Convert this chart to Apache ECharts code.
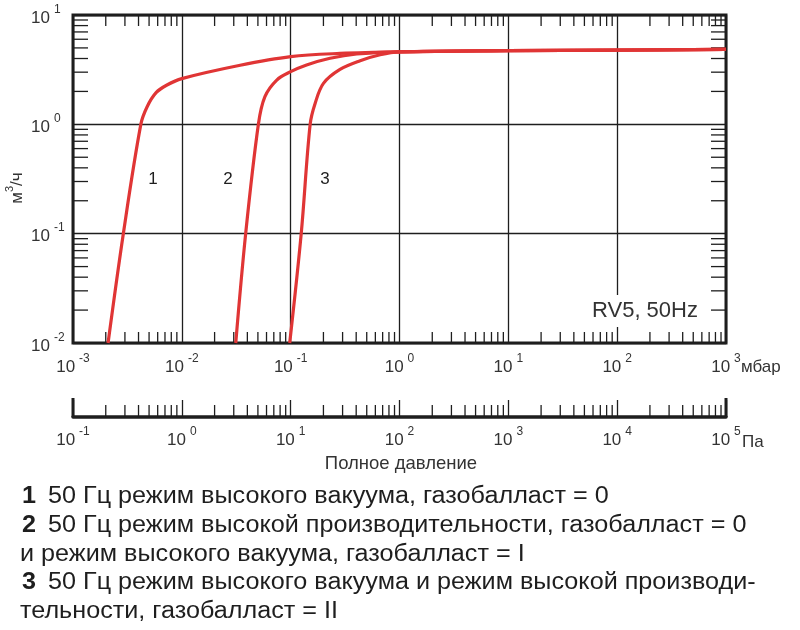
<!DOCTYPE html>
<html style="height: 100%">
<head>
<meta charset="utf-8" />
<title>RV5, 50Hz</title>
<script src="https://cdn.jsdelivr.net/npm/echarts@6/dist/echarts.min.js"></script>
</head>
<body style="height: 100%; margin: 0; background: #fff">
<div id="main" style="width: 800px; height: 630px"></div>
<script type="text/javascript">
// кривые откачки: [давление, мбар ; быстрота, м3/ч]
var curve1 = [[0.0021, 0.01], [0.0029, 0.1], [0.0042, 1.0], [0.0048, 1.45], [0.0058, 1.95], [0.0073, 2.29],
  [0.01, 2.62], [0.0335, 3.45], [0.1, 4.16], [0.284, 4.45], [1, 4.6], [10, 4.72], [100, 4.78], [1000, 4.85]];
var curve2 = [[0.0313, 0.01], [0.0386, 0.1], [0.0505, 1.0], [0.058, 1.79], [0.0745, 2.54], [0.1, 3.03],
  [0.14, 3.49], [0.23, 4.02], [0.405, 4.4], [1, 4.6], [10, 4.72], [100, 4.78], [1000, 4.85]];
var curve3 = [[0.098, 0.01], [0.125, 0.1], [0.151, 1.0], [0.168, 1.56], [0.2, 2.37], [0.284, 3.18],
  [0.435, 3.82], [0.664, 4.33], [1, 4.6], [10, 4.72], [100, 4.78], [1000, 4.85]];

// оси
var mbarRange = [0.001, 1000];
var paRange = [0.1, 100000];
var flowRange = [0.01, 10];
var mbarDecades = [-3, -2, -1, 0, 1, 2];
var paDecades = [-1, 0, 1, 2, 3, 4];
var flowDecades = [-2, -1, 0];
var minorSteps = [2, 3, 4, 5, 6, 7, 8, 9];

var legendLines = [
  ['1', '50 Гц режим высокого вакуума, газобалласт = 0'],
  ['2', '50 Гц режим высокой производительности, газобалласт = 0'],
  ['', 'и режим высокого вакуума, газобалласт = I'],
  ['3', '50 Гц режим высокого вакуума и режим высокой производи-'],
  ['', 'тельности, газобалласт = II']
];

var FONT = 'Liberation Sans, Arial, Helvetica, sans-serif';
var INK = '#1e1e1e';
var RED = '#e03535';

function minorValues(decades) {
  var out = [];
  decades.forEach(function (d) {
    minorSteps.forEach(function (m) { out.push(m * Math.pow(10, d)); });
  });
  return out;
}

function powLabel(v) {
  return '{b|10}{s|' + Math.round(Math.log10(v)) + '}';
}
var powRich = {
  b: { fontSize: 17, lineHeight: 23, verticalAlign: 'bottom', color: '#333', fontFamily: FONT },
  s: { fontSize: 12, lineHeight: 12, verticalAlign: 'top', color: '#333', fontFamily: FONT, padding: [0, 0, 0, 4] }
};

function tickLine(x1, y1, x2, y2, w) {
  return { type: 'line', shape: { x1: x1, y1: y1, x2: x2, y2: y2 }, style: { stroke: INK, lineWidth: w || 1.3 } };
}

var myChart = echarts.init(document.getElementById('main'));

var curveStyle = function (data) {
  return {
    type: 'line', data: data, smooth: 0.35, symbol: 'none',
    lineStyle: { color: RED, width: 3.2 }, z: 5
  };
};

var option = {
  backgroundColor: '#fff',
  animation: false,
  grid: [
    { left: 73, right: 74, top: 15, bottom: 287, show: true, borderColor: INK, borderWidth: 3 },
    { left: 73, right: 74, top: 400, height: 17 }
  ],
  xAxis: [
    {
      gridIndex: 0, type: 'log', logBase: 10, min: mbarRange[0], max: mbarRange[1], interval: 1,
      axisLine: { show: false }, axisTick: { show: false },
      splitLine: { show: true, lineStyle: { color: INK, width: 1.3 } },
      axisLabel: { formatter: powLabel, rich: powRich, margin: 10, showMinLabel: true, showMaxLabel: true }
    },
    {
      gridIndex: 1, type: 'log', logBase: 10, min: paRange[0], max: paRange[1], interval: 1,
      axisLine: { show: true, lineStyle: { color: INK, width: 3.5 } },
      axisTick: { show: true, inside: true, length: 17, lineStyle: { color: INK, width: 1.3 } },
      splitLine: { show: false },
      axisLabel: { formatter: powLabel, rich: powRich, margin: 9, showMinLabel: true, showMaxLabel: true }
    }
  ],
  yAxis: [
    {
      gridIndex: 0, type: 'log', logBase: 10, min: flowRange[0], max: flowRange[1], interval: 1,
      axisLine: { show: false }, axisTick: { show: false },
      splitLine: { show: true, lineStyle: { color: INK, width: 1.3 } },
      axisLabel: { formatter: powLabel, rich: powRich, margin: 42, align: 'left' }
    },
    { gridIndex: 1, type: 'value', min: 0, max: 1, show: false }
  ],
  series: [
    curveStyle(curve1),
    curveStyle(curve2),
    curveStyle(curve3),
    {
      // малые деления по оси давления (сверху и снизу)
      type: 'custom', xAxisIndex: 0, yAxisIndex: 0, z: 4,
      data: minorValues(mbarDecades).map(function (v) { return [v, flowRange[0]]; }),
      renderItem: function (params, api) {
        var b = api.coord([api.value(0), flowRange[0]]);
        var t = api.coord([api.value(0), flowRange[1]]);
        return { type: 'group', children: [
          tickLine(b[0], b[1], b[0], b[1] - 11),
          tickLine(t[0], t[1], t[0], t[1] + 11)
        ] };
      }
    },
    {
      // малые деления по оси быстроты (слева и справа)
      type: 'custom', xAxisIndex: 0, yAxisIndex: 0, z: 4,
      data: minorValues(flowDecades).map(function (v) { return [mbarRange[0], v]; }),
      renderItem: function (params, api) {
        var l = api.coord([mbarRange[0], api.value(1)]);
        var r = api.coord([mbarRange[1], api.value(1)]);
        return { type: 'group', children: [
          tickLine(l[0], l[1], l[0] + 15, l[1]),
          tickLine(r[0], r[1], r[0] - 15, r[1])
        ] };
      }
    },
    {
      // шкала в Па
      type: 'custom', xAxisIndex: 1, yAxisIndex: 1, z: 4,
      data: minorValues(paDecades).map(function (v) { return [v, 0]; }),
      renderItem: function (params, api) {
        var p = api.coord([api.value(0), 0]);
        return tickLine(p[0], p[1], p[0], p[1] - 12);
      }
    },
    {
      type: 'custom', xAxisIndex: 1, yAxisIndex: 1, z: 4,
      data: [[paRange[0], 0], [paRange[1], 0]],
      renderItem: function (params, api) {
        var p = api.coord([api.value(0), 0]);
        return tickLine(p[0], p[1], p[0], p[1] - 19, 3);
      }
    }
  ],
  graphic: [
    { type: 'text', x: 153, y: 179, z: 100, style: { text: '1', font: '17px ' + FONT, fill: INK, align: 'center', verticalAlign: 'middle' } },
    { type: 'text', x: 228, y: 179, z: 100, style: { text: '2', font: '17px ' + FONT, fill: INK, align: 'center', verticalAlign: 'middle' } },
    { type: 'text', x: 325, y: 179, z: 100, style: { text: '3', font: '17px ' + FONT, fill: INK, align: 'center', verticalAlign: 'middle' } },
    {
      type: 'text', x: 589, y: 311, z: 100,
      style: { text: 'RV5, 50Hz', font: '22px ' + FONT, fill: '#333', verticalAlign: 'middle',
        backgroundColor: '#fff', padding: [8, 3, 2, 3] }
    },
    {
      type: 'text', x: 15, y: 188, rotation: Math.PI / 2, z: 100,
      style: {
        text: '{a|м}{s|3}{a|/ч}', align: 'center', verticalAlign: 'middle',
        rich: {
          a: { fontSize: 17, lineHeight: 22, verticalAlign: 'bottom', fill: '#333', fontFamily: FONT },
          s: { fontSize: 11, lineHeight: 11, verticalAlign: 'top', fill: '#333', fontFamily: FONT }
        }
      }
    },
    { type: 'text', x: 741, y: 367, z: 100, style: { text: 'мбар', font: '17px ' + FONT, fill: '#333', verticalAlign: 'middle' } },
    { type: 'text', x: 742, y: 442, z: 100, style: { text: 'Па', font: '17px ' + FONT, fill: '#333', verticalAlign: 'middle' } },
    { type: 'text', x: 401, y: 464, z: 100, style: { text: 'Полное давление', font: '18.5px ' + FONT, fill: '#333', align: 'center', verticalAlign: 'middle' } }
  ]
};

legendLines.forEach(function (ln, i) {
  var y = 497 + i * 28.6;
  if (ln[0]) {
    option.graphic.push({ type: 'text', x: 22, y: y, z: 100, scaleX: 1.095,
      style: { text: ln[0], font: 'bold 23px ' + FONT, fill: INK, verticalAlign: 'middle' } });
    option.graphic.push({ type: 'text', x: 48, y: y, z: 100, scaleX: 1.095,
      style: { text: ln[1], font: '23px ' + FONT, fill: INK, verticalAlign: 'middle' } });
  } else {
    option.graphic.push({ type: 'text', x: 20, y: y, z: 100, scaleX: 1.095,
      style: { text: ln[1], font: '23px ' + FONT, fill: INK, verticalAlign: 'middle' } });
  }
});

myChart.setOption(option, true);
</script>
</body>
</html>
